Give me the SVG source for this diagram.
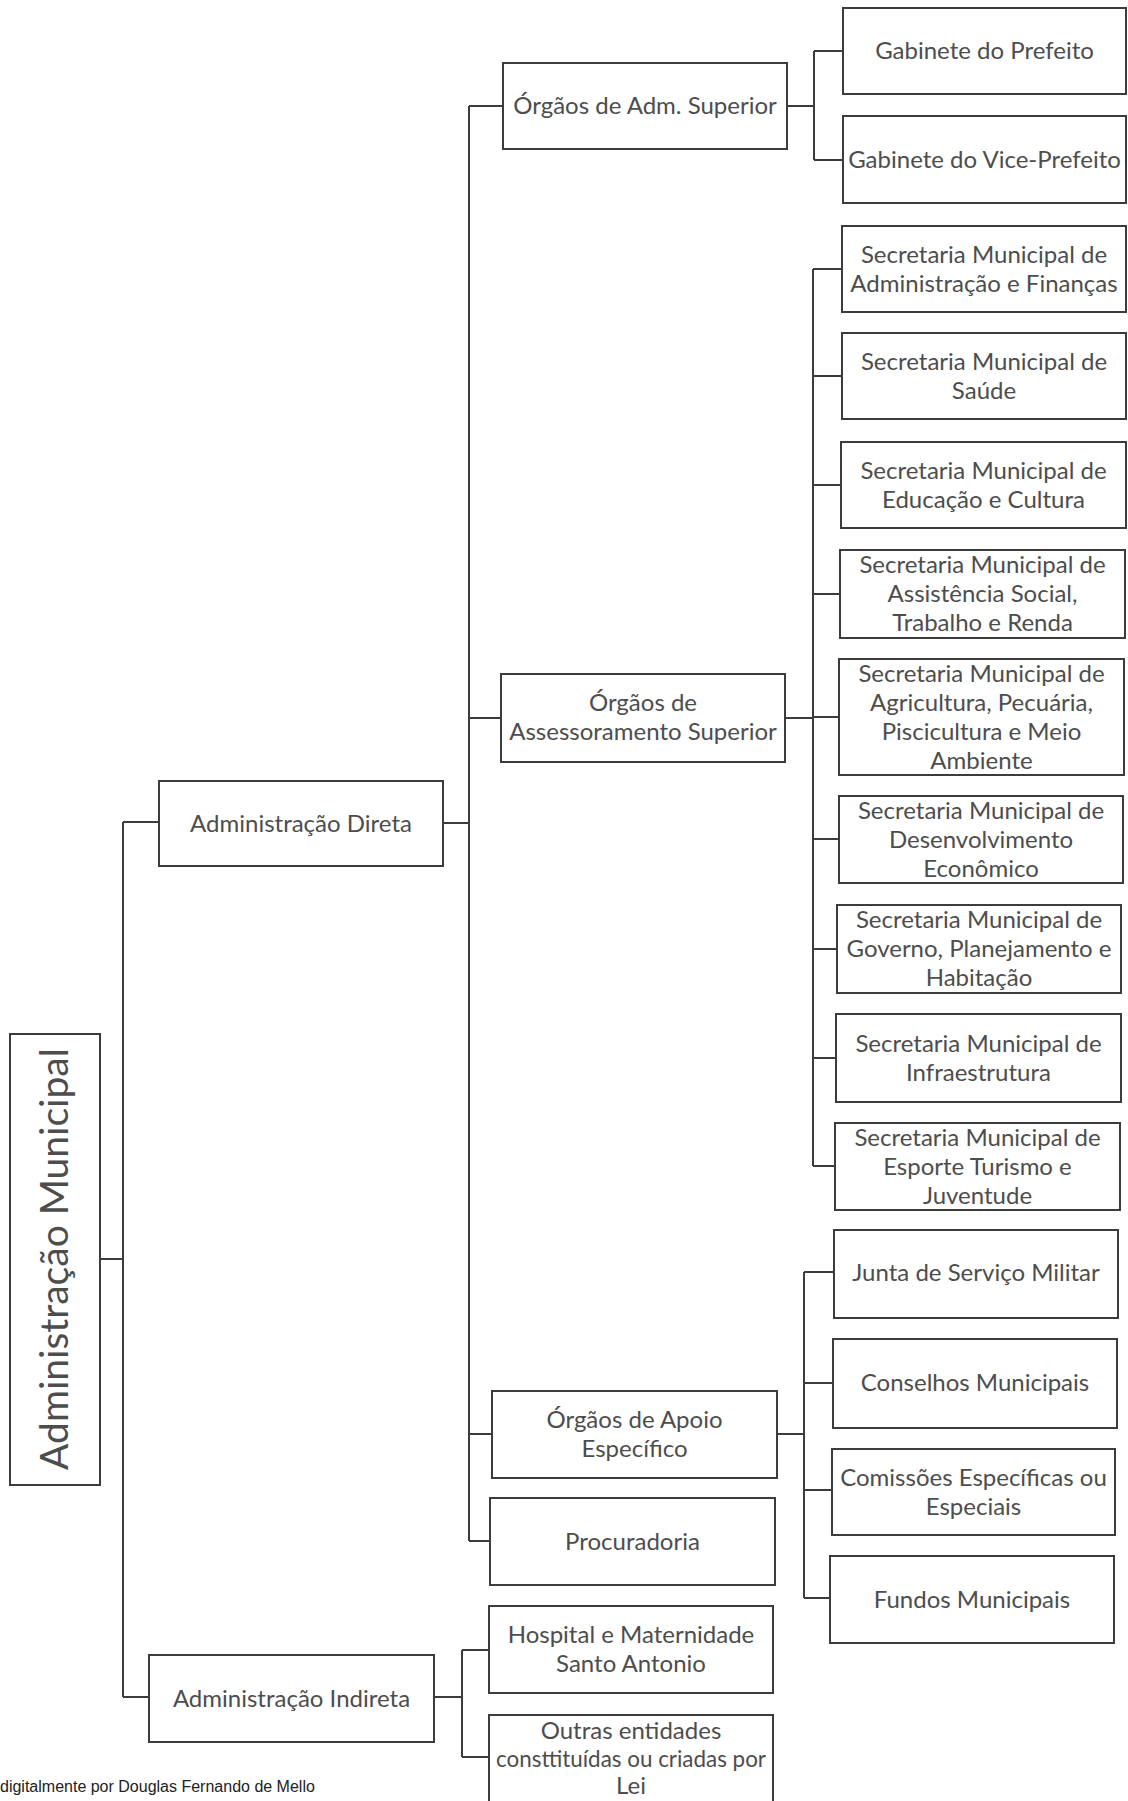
<svg xmlns="http://www.w3.org/2000/svg" width="1128" height="1801" viewBox="0 0 1128 1801">
<style>
.box{fill:#fff;stroke:#3c3c3c;stroke-width:2}
.t{font-family:Lato,"Open Sans","Liberation Sans",sans-serif;font-size:24px;fill:#4d4d4d;text-anchor:middle}
.c{fill:none;stroke:#3c3c3c;stroke-width:2}
.foot{font-family:"Liberation Sans",Arial,sans-serif;font-size:16px;fill:#222}
</style>
<rect width="1128" height="1801" fill="#fff"/>
<g id="connectors" class="c">
<path d="M100 1259H123M123 822V1697M123 822H159M123 1697H149"/>
<path d="M443 823H469M469 106V1541M469 106H503M469 718H501M469 1434H492M469 1541H490"/>
<path d="M434 1697H462M462 1650V1757M462 1650H489M462 1757H489"/>
<path d="M787 106H814M814 51V160M814 51H843M814 160H843"/>
<path d="M785 718H813M813 269V1166M813 269H842M813 376H842M813 485H841M813 594H840M813 717H839M813 839H839M813 949H837M813 1058H836M813 1166H835"/>
<path d="M777 1434H804M804 1272V1598M804 1272H834M804 1383H833M804 1490H832M804 1598H830"/>
</g>
<g id="root">
<rect class="box" x="10" y="1034" width="90" height="451"/>
<text class="t" style="font-size:39px" transform="translate(68 1259) rotate(-90)" x="0" y="0">Administração Municipal</text>
</g>
<g id="adm-direta"><rect class="box" x="159" y="781" width="284" height="85"/><text class="t" x="301" y="832">Administração Direta</text></g>
<g id="adm-indireta"><rect class="box" x="149" y="1655" width="285" height="87"/><text class="t" x="291.5" y="1707">Administração Indireta</text></g>
<g id="orgaos-adm-superior"><rect class="box" x="503" y="63" width="284" height="86"/><text class="t" x="645" y="114">Órgãos de Adm. Superior</text></g>
<g id="orgaos-assessoramento"><rect class="box" x="501" y="674" width="284" height="88"/><text class="t" x="643" y="711"><tspan x="643">Órgãos de</tspan><tspan x="643" dy="29">Assessoramento Superior</tspan></text></g>
<g id="orgaos-apoio"><rect class="box" x="492" y="1391" width="285" height="87"/><text class="t" x="634.5" y="1428"><tspan x="634.5">Órgãos de Apoio</tspan><tspan x="634.5" dy="29">Específico</tspan></text></g>
<g id="procuradoria"><rect class="box" x="490" y="1498" width="285" height="87"/><text class="t" x="632.5" y="1550">Procuradoria</text></g>
<g id="hospital"><rect class="box" x="489" y="1606" width="284" height="87"/><text class="t" x="631" y="1643"><tspan x="631">Hospital e Maternidade</tspan><tspan x="631" dy="29">Santo Antonio</tspan></text></g>
<g id="outras"><rect class="box" x="489" y="1715" width="284" height="100"/><text class="t" x="631" y="1739"><tspan x="631">Outras entidades</tspan><tspan x="631" dy="28" textLength="270" lengthAdjust="spacingAndGlyphs">consttituídas ou criadas por</tspan><tspan x="631" dy="27">Lei</tspan></text></g>
<g id="gab-prefeito"><rect class="box" x="843" y="8" width="283" height="86"/><text class="t" x="984.5" y="59">Gabinete do Prefeito</text></g>
<g id="gab-vice"><rect class="box" x="843" y="116" width="283" height="87"/><text class="t" x="984.5" y="168">Gabinete do Vice-Prefeito</text></g>
<g id="sec-adm"><rect class="box" x="842" y="226" width="284" height="86"/><text class="t" x="984" y="262.5"><tspan x="984">Secretaria Municipal de</tspan><tspan x="984" dy="29">Administração e Finanças</tspan></text></g>
<g id="sec-saude"><rect class="box" x="842" y="333" width="284" height="86"/><text class="t" x="984" y="369.5"><tspan x="984">Secretaria Municipal de</tspan><tspan x="984" dy="29">Saúde</tspan></text></g>
<g id="sec-educacao"><rect class="box" x="841" y="442" width="285" height="86"/><text class="t" x="983.5" y="478.5"><tspan x="983.5">Secretaria Municipal de</tspan><tspan x="983.5" dy="29">Educação e Cultura</tspan></text></g>
<g id="sec-assistencia"><rect class="box" x="840" y="550" width="285" height="88"/><text class="t" x="982.5" y="573"><tspan x="982.5">Secretaria Municipal de</tspan><tspan x="982.5" dy="29">Assistência Social,</tspan><tspan x="982.5" dy="29">Trabalho e Renda</tspan></text></g>
<g id="sec-agricultura"><rect class="box" x="839" y="659" width="285" height="116"/><text class="t" x="981.5" y="681.5"><tspan x="981.5">Secretaria Municipal de</tspan><tspan x="981.5" dy="29">Agricultura, Pecuária,</tspan><tspan x="981.5" dy="29">Piscicultura e Meio</tspan><tspan x="981.5" dy="29">Ambiente</tspan></text></g>
<g id="sec-desenvolvimento"><rect class="box" x="839" y="796" width="284" height="87"/><text class="t" x="981" y="818.5"><tspan x="981">Secretaria Municipal de</tspan><tspan x="981" dy="29">Desenvolvimento</tspan><tspan x="981" dy="29">Econômico</tspan></text></g>
<g id="sec-governo"><rect class="box" x="837" y="905" width="284" height="88"/><text class="t" x="979" y="928"><tspan x="979">Secretaria Municipal de</tspan><tspan x="979" dy="29">Governo, Planejamento e</tspan><tspan x="979" dy="29">Habitação</tspan></text></g>
<g id="sec-infra"><rect class="box" x="836" y="1014" width="285" height="88"/><text class="t" x="978.5" y="1051.5"><tspan x="978.5">Secretaria Municipal de</tspan><tspan x="978.5" dy="29">Infraestrutura</tspan></text></g>
<g id="sec-esporte"><rect class="box" x="835" y="1123" width="285" height="87"/><text class="t" x="977.5" y="1145.5"><tspan x="977.5">Secretaria Municipal de</tspan><tspan x="977.5" dy="29">Esporte Turismo e</tspan><tspan x="977.5" dy="29">Juventude</tspan></text></g>
<g id="junta"><rect class="box" x="834" y="1230" width="284" height="88"/><text class="t" x="976" y="1281">Junta de Serviço Militar</text></g>
<g id="conselhos"><rect class="box" x="833" y="1339" width="284" height="89"/><text class="t" x="975" y="1391">Conselhos Municipais</text></g>
<g id="comissoes"><rect class="box" x="832" y="1449" width="283" height="86"/><text class="t" x="973.5" y="1485.5"><tspan x="973.5">Comissões Específicas ou</tspan><tspan x="973.5" dy="29">Especiais</tspan></text></g>
<g id="fundos"><rect class="box" x="830" y="1556" width="284" height="87"/><text class="t" x="972" y="1608">Fundos Municipais</text></g>
<text class="foot" x="0" y="1792">digitalmente por Douglas Fernando de Mello</text>
</svg>
